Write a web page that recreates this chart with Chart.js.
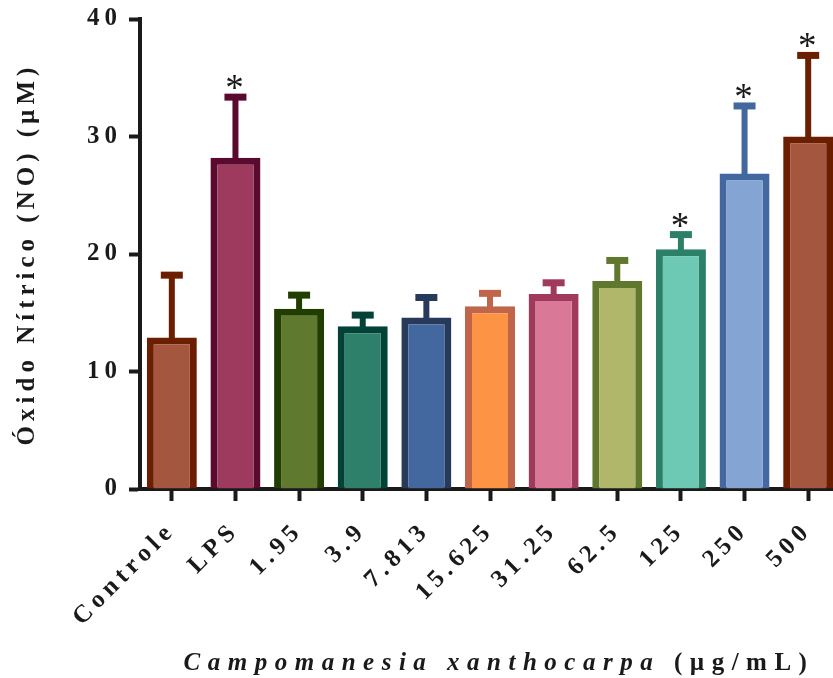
<!DOCTYPE html>
<html>
<head>
<meta charset="utf-8">
<script src="https://cdn.jsdelivr.net/npm/chart.js@4.4.0/dist/chart.umd.min.js"></script>
<style>
  html, body { margin: 0; padding: 0; background: #fff; overflow: hidden; }
  #wrap { width: 842px; height: 678px; }
</style>
</head>
<body>
<div id="wrap"><canvas id="grafico" width="842" height="678"></canvas></div>
<script>
// valores (média e erro superior)
const categorias = ["Controle", "LPS", "1.95", "3.9", "7.813", "15.625", "31.25", "62.5", "125", "250", "500"];
const medias = [12.9, 28.2, 15.35, 13.85, 14.6, 15.55, 16.6, 17.7, 20.4, 26.85, 30.0];
const erros = [5.3, 5.15, 1.15, 0.95, 1.7, 1.1, 0.95, 1.75, 1.25, 5.75, 6.9];
const significativo = [false, true, false, false, false, false, false, false, true, true, true];
const ticksY = [0, 10, 20, 30, 40];

const coresFundo = ["#a5563e", "#9e3a5e", "#5f7a2e", "#2e806a", "#42689f", "#fd9445",
                    "#d97897", "#b0b76b", "#6dc9b3", "#84a5d4", "#a5563e"];
const coresBorda = ["#6b1e00", "#5a0a2e", "#223d00", "#034236", "#273a5c", "#c0654a",
                    "#a0395c", "#5f782e", "#2d8068", "#42689f", "#6b1e00"];

const corTexto = "#1a1a1a";
const fonte = "'Liberation Serif', 'Times New Roman', serif";

const barrasErro = {
  id: "barrasErro",
  afterDatasetsDraw(chart) {
    const ctx = chart.ctx;
    const y = chart.scales.y;
    const meta = chart.getDatasetMeta(0);
    ctx.save();
    ctx.letterSpacing = "0px";
    meta.data.forEach((bar, i) => {
      const base = y.getPixelForValue(medias[i]);
      const topo = y.getPixelForValue(medias[i] + erros[i]);
      ctx.strokeStyle = coresBorda[i];
      ctx.lineWidth = 6;
      ctx.beginPath();
      ctx.moveTo(bar.x, base + 2);
      ctx.lineTo(bar.x, topo);
      ctx.stroke();
      ctx.lineWidth = 7;
      ctx.beginPath();
      ctx.moveTo(bar.x - 11, topo);
      ctx.lineTo(bar.x + 11, topo);
      ctx.stroke();
      if (significativo[i]) {
        ctx.fillStyle = corTexto;
        ctx.font = "37px " + fonte;
        ctx.textAlign = "center";
        ctx.textBaseline = "alphabetic";
        ctx.fillText("*", bar.x - 1, topo + 3);
      }
    });
    ctx.restore();
  }
};

const espacamento = {
  id: "espacamento",
  beforeDraw(chart) {
    chart.ctx.letterSpacing = "5px";
  }
};

const titulos = {
  id: "titulos",
  afterDraw(chart) {
    const ctx = chart.ctx;
    const area = chart.chartArea;
    ctx.save();
    ctx.fillStyle = corTexto;
    ctx.letterSpacing = "7.5px";

    // título do eixo x: parte em itálico + unidade
    const p1 = "Campomanesia xanthocarpa";
    const p2 = " (µg/mL)";
    ctx.font = "italic bold 25px " + fonte;
    const w1 = ctx.measureText(p1).width;
    ctx.font = "bold 25px " + fonte;
    const w2 = ctx.measureText(p2).width;
    let x0 = (area.left + area.right) / 2 + 9 - (w1 + w2) / 2;
    ctx.textAlign = "left";
    ctx.textBaseline = "alphabetic";
    ctx.font = "italic bold 25px " + fonte;
    ctx.fillText(p1, x0, 670);
    ctx.font = "bold 25px " + fonte;
    ctx.fillText(p2, x0 + w1, 670);

    // título do eixo y
    ctx.letterSpacing = "5px";
    ctx.translate(28, (area.top + area.bottom) / 2);
    ctx.rotate(-Math.PI / 2);
    ctx.textAlign = "center";
    ctx.textBaseline = "middle";
    ctx.font = "bold 25px " + fonte;
    ctx.fillText("Óxido Nítrico (NO) (µM)", 0, 0);
    ctx.restore();
  }
};

new Chart(document.getElementById("grafico"), {
  type: "bar",
  data: {
    labels: categorias,
    datasets: [{
      data: medias,
      backgroundColor: coresFundo,
      borderColor: coresBorda,
      borderWidth: 7,
      borderSkipped: "start",
      categoryPercentage: 1,
      barPercentage: 0.786
    }]
  },
  options: {
    responsive: false,
    animation: false,
    devicePixelRatio: 1,
    layout: { padding: { top: 19, right: 2, left: 0, bottom: 0 } },
    plugins: {
      legend: { display: false },
      tooltip: { enabled: false }
    },
    scales: {
      x: {
        offset: true,
        grid: {
          display: true,
          drawOnChartArea: false,
          tickLength: 12,
          tickWidth: 4,
          tickColor: corTexto,
          offset: false
        },
        border: { color: corTexto, width: 4 },
        ticks: {
          color: corTexto,
          font: { family: fonte, size: 25, weight: "bold" },
          minRotation: 45,
          maxRotation: 45,
          padding: 15
        },
        afterFit(scale) {
          scale.height = 189;
          scale.paddingLeft = 0;
          scale.paddingRight = 0;
        }
      },
      y: {
        min: 0,
        max: 40,
        afterBuildTicks(scale) { scale.ticks = ticksY.map(v => ({ value: v })); },
        grid: {
          drawOnChartArea: false,
          tickLength: 11,
          tickWidth: 4,
          tickColor: corTexto
        },
        border: { color: corTexto, width: 4 },
        ticks: {
          color: corTexto,
          font: { family: fonte, size: 25, weight: "bold" },
          padding: 7
        },
        afterFit(scale) {
          scale.width = 140;
          scale.paddingTop = 0;
          scale.paddingBottom = 0;
        }
      }
    }
  },
  plugins: [espacamento, barrasErro, titulos]
});
</script>
</body>
</html>
